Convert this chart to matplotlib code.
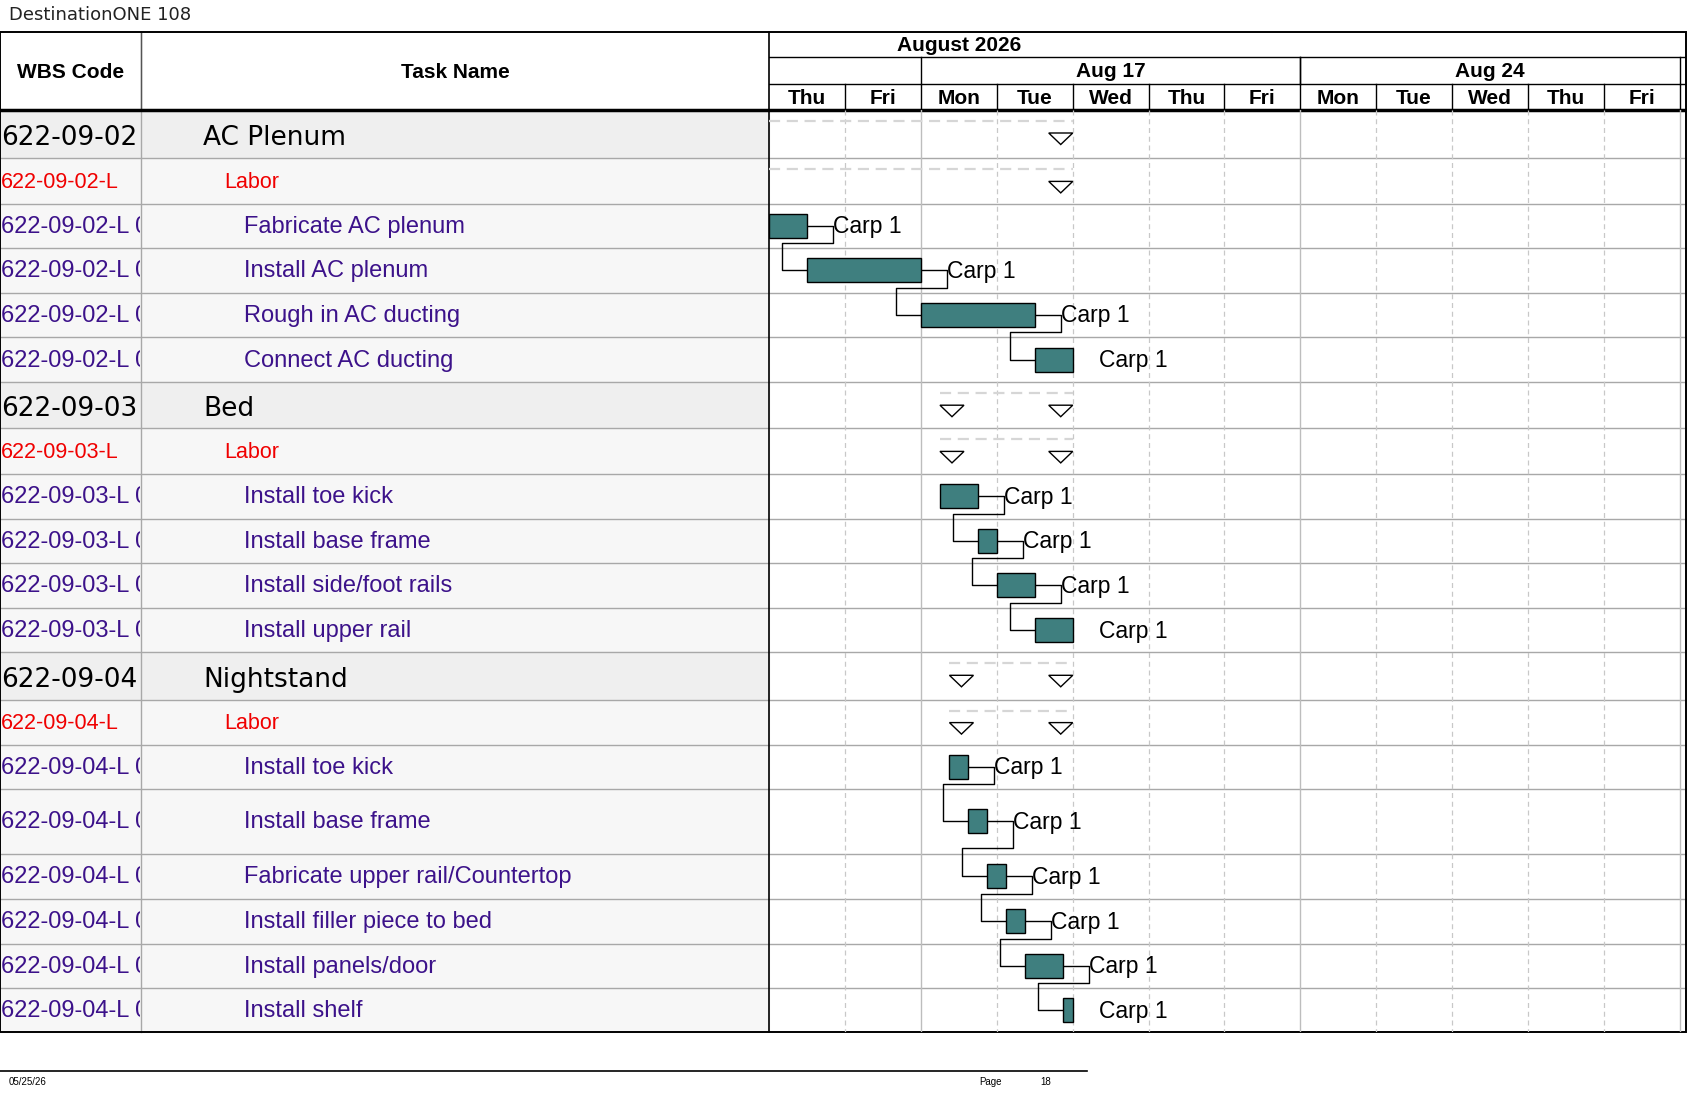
import matplotlib.pyplot as plt
from matplotlib.patches import Rectangle, Polygon
import numpy as np

# ---- data ----
title = "DestinationONE 108"
month_label = "August 2026"
day_names = ['Thu', 'Fri', 'Mon', 'Tue', 'Wed', 'Thu', 'Fri', 'Mon', 'Tue', 'Wed', 'Thu', 'Fri']
week_labels = ['Aug 17', 'Aug 24']
week_start_idx = [2, 7]
week_end_idx = [7, 12]

wbs = ['622-09-02', '622-09-02-L', '622-09-02-L 010', '622-09-02-L 020', '622-09-02-L 030', '622-09-02-L 040',
       '622-09-03', '622-09-03-L', '622-09-03-L 010', '622-09-03-L 020', '622-09-03-L 030', '622-09-03-L 040',
       '622-09-04', '622-09-04-L', '622-09-04-L 010', '622-09-04-L 020', '622-09-04-L 030', '622-09-04-L 040',
       '622-09-04-L 050', '622-09-04-L 060']
names = ['AC Plenum', 'Labor', 'Fabricate AC plenum', 'Install AC plenum', 'Rough in AC ducting', 'Connect AC ducting',
         'Bed', 'Labor', 'Install toe kick', 'Install base frame', 'Install side/foot rails', 'Install upper rail',
         'Nightstand', 'Labor', 'Install toe kick', 'Install base frame', 'Fabricate upper rail/Countertop',
         'Install filler piece to bed', 'Install panels/door', 'Install shelf']
levels = [0, 1, 2, 2, 2, 2, 0, 1, 2, 2, 2, 2, 0, 1, 2, 2, 2, 2, 2, 2]
groups = [0, 0, 0, 0, 0, 0, 1, 1, 1, 1, 1, 1, 2, 2, 2, 2, 2, 2, 2, 2]
# start / finish in working days from Thu Aug 13 (tasks only)
starts = [None, None, 0.0, 0.5, 2.0, 3.5, None, None, 2.25, 2.75, 3.0, 3.5,
          None, None, 2.375, 2.625, 2.875, 3.125, 3.375, 3.875]
finishes = [None, None, 0.5, 2.0, 3.5, 4.0, None, None, 2.75, 3.0, 3.5, 4.0,
            None, None, 2.625, 2.875, 3.125, 3.375, 3.875, 4.0]
resource = 'Carp 1'
row_heights = [48.4, 45.2, 44.1, 45.2, 44.1, 45.2, 46.2, 45.2, 45.2, 44.1, 45.2, 44.2,
               47.3, 45.2, 44.1, 64.6, 45.2, 45.2, 44.1, 44.1]
footer_date = '05/25/26'
page_no = '18'

# ---- layout (pixels) ----
W, H = 1687, 1097
TOP, HDR = 32, 110
X_WBS, X_GANTT, X_RIGHT = 141, 769.3, 1686
DAY = (1679.6 - X_GANTT) / 12
bounds = HDR + np.concatenate([[0], np.cumsum(row_heights)])
BOTTOM = bounds[-1]

teal = '#3f7f7f'
purple = '#3c128a'
red = '#f00000'
grid_gray = '#a8a8a8'

fig = plt.figure(figsize=(W / 100, H / 100), dpi=100)
ax = fig.add_axes([0, 0, 1, 1])
ax.set_xlim(0, W)
ax.set_ylim(H, 0)
ax.axis('off')

gx = fig.add_axes([X_GANTT / W, 1 - BOTTOM / H, (X_RIGHT - X_GANTT) / W, (BOTTOM - HDR) / H])
gx.set_xlim(0, (X_RIGHT - X_GANTT) / DAY)
gx.set_ylim(BOTTOM, HDR)
gx.axis('off')

hx = fig.add_axes([X_GANTT / W, 1 - HDR / H, (X_RIGHT - X_GANTT) / W, (HDR - TOP) / H])
hx.set_xlim(0, (X_RIGHT - X_GANTT) / DAY)
hx.set_ylim(HDR, TOP)
hx.axis('off')

# ---- table side ----
ax.text(9, 15, title, fontsize=13, family='DejaVu Sans', color='#222222', va='center')
clip = Rectangle((0, 0), X_WBS - 1, H, transform=ax.transData)
for i in range(len(wbs)):
    y0, y1 = bounds[i], bounds[i + 1]
    yc = (y0 + y1) / 2
    bg = '#efefef' if levels[i] == 0 else '#f7f7f7'
    ax.add_patch(Rectangle((0, y0), X_GANTT, y1 - y0, color=bg, zorder=0))
    if levels[i] == 0:
        kw = dict(fontsize=19, family='DejaVu Sans', color='black')
        xn, dy = 203, 4
    elif levels[i] == 1:
        kw = dict(fontsize=15.5, family='Liberation Sans', color=red)
        xn, dy = 224, 1
    else:
        kw = dict(fontsize=17, family='Liberation Sans', color=purple)
        xn, dy = 244, 1
    t = ax.text(1, yc + dy, wbs[i], va='center', ha='left', **kw)
    t.set_clip_on(True)
    t.set_clip_path(clip)
    ax.text(xn, yc + dy, names[i], va='center', ha='left', **kw)

for y in bounds[1:-1]:
    ax.plot([0, X_RIGHT], [y, y], color=grid_gray, lw=1, zorder=2)
ax.plot([X_WBS, X_WBS], [TOP, BOTTOM], color=grid_gray, lw=1, zorder=2)
ax.plot([X_WBS, X_WBS], [TOP, HDR], color='#555555', lw=1, zorder=2)
ax.plot([X_GANTT, X_GANTT], [TOP, BOTTOM], color='black', lw=1.2, zorder=3)
ax.add_patch(Rectangle((0, TOP), X_RIGHT, BOTTOM - TOP, fill=False, ec='black', lw=1.4, zorder=4))
ax.plot([0, X_RIGHT], [HDR, HDR], color='black', lw=2.5, zorder=4)

hdr_kw = dict(fontsize=15, family='Liberation Sans', fontweight='bold', ha='center', va='center')
ax.text(X_WBS / 2, (TOP + HDR) / 2 + 2, 'WBS Code', **hdr_kw)
ax.text((X_WBS + X_GANTT) / 2, (TOP + HDR) / 2 + 2, 'Task Name', **hdr_kw)

# ---- timeline header ----
n_days = len(day_names)
y_month, y_week = 57.3, 84.3
hx.plot([0, 20], [y_month, y_month], color='black', lw=1)
hx.plot([0, 20], [y_week, y_week], color='black', lw=1)
hx.text(2.5, (TOP + y_month) / 2 + 1, month_label, **hdr_kw)
for lab, a, b in zip(week_labels, week_start_idx, week_end_idx):
    hx.plot([a, a], [y_month, y_week], color='black', lw=1)
    hx.plot([b, b], [y_month, y_week], color='black', lw=1)
    hx.text((a + b) / 2, (y_month + y_week) / 2 + 1, lab, **hdr_kw)
for d, lab in enumerate(day_names):
    hx.text(d + 0.5, (y_week + HDR) / 2 + 1, lab, **hdr_kw)
    hx.plot([d + 1, d + 1], [y_week, HDR], color='black', lw=1)

# ---- gantt grid ----
for d in range(1, n_days + 1):
    nxt = day_names[d] if d < n_days else 'Mon'
    if nxt == 'Mon':
        gx.plot([d, d], [HDR, BOTTOM], color='#bdbdbd', lw=1, zorder=1)
    else:
        gx.plot([d, d], [HDR, BOTTOM], color='#c8c8c8', lw=0.9, ls=(0, (4, 3)), zorder=1)

# ---- summary rows ----
tri_w, tri_h = 24 / DAY, 11.5
for i in range(len(wbs)):
    if levels[i] == 2:
        continue
    kids = [j for j in range(len(wbs)) if groups[j] == groups[i] and levels[j] == 2]
    s = min(starts[j] for j in kids)
    f = max(finishes[j] for j in kids)
    y0 = bounds[i]
    gx.plot([s, f], [y0 + 11, y0 + 11], color='#d6d6d6', lw=1.6, ls=(0, (5, 3)), zorder=2)
    top = y0 + 23
    marks = [f - tri_w] if s <= 0 else [s, f - tri_w]
    for x0 in marks:
        gx.add_patch(Polygon([(x0, top), (x0 + tri_w, top), (x0 + tri_w / 2, top + tri_h)],
                             closed=True, fc='white', ec='black', lw=1, zorder=3))

# ---- task bars, labels and links ----
lead = 26 / DAY
back = 25 / DAY
bar_h = 24
task_rows = [i for i in range(len(wbs)) if levels[i] == 2]
for i in task_rows:
    yc = (bounds[i] + bounds[i + 1]) / 2
    gx.add_patch(Rectangle((starts[i], yc - bar_h / 2), finishes[i] - starts[i], bar_h,
                           fc=teal, ec='black', lw=1, zorder=4))
    gx.text(finishes[i] + lead, yc + 1, resource, fontsize=16.5, family='Liberation Sans',
            va='center', ha='left', zorder=5)
    j = i + 1
    if j < len(wbs) and levels[j] == 2 and groups[j] == groups[i]:
        yn = (bounds[j] + bounds[j + 1]) / 2
        ydrop = bounds[i + 1] - 5
        xe = finishes[i] + lead
        xb = starts[j] - back
        gx.plot([finishes[i], xe, xe, xb, xb, starts[j]], [yc, yc, ydrop, ydrop, yn, yn],
                color='black', lw=1, zorder=3)

# ---- footer ----
ax.plot([0, 1087], [1071, 1071], color='black', lw=1.2)
ax.text(9, 1082, footer_date, fontsize=7, family='Liberation Sans', va='center')
ax.text(979, 1082, 'Page', fontsize=7, family='Liberation Sans', va='center')
ax.text(1040, 1082, page_no, fontsize=7, family='Liberation Sans', va='center')

fig.savefig('out.png', dpi=100)
